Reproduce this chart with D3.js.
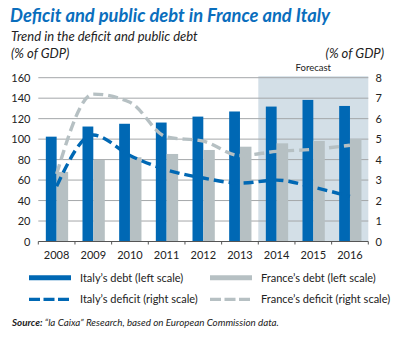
<!DOCTYPE html>
<html>
<head>
<meta charset="utf-8">
<script src="https://cdn.jsdelivr.net/npm/d3@7"></script>
<style>
  html, body { margin: 0; padding: 0; background: #fff; }
  svg { display: block; font-family: "Lato", "Open Sans", sans-serif; }
</style>
</head>
<body>
<svg id="chart" width="397" height="338"></svg>
<script>
// Years on the horizontal axis
const years = ["2008", "2009", "2010", "2011", "2012", "2013", "2014", "2015", "2016"];
// Years that are forecasts (shaded)
const forecastYears = ["2014", "2015", "2016"];
// Public debt, % of GDP (left scale)
const italyDebt = [102.4, 112.3, 115.0, 116.2, 122.0, 127.0, 131.8, 138.3, 132.4];
const franceDebt = [68.0, 79.6, 82.3, 85.5, 89.4, 92.6, 95.9, 98.2, 100.1];
// Deficit, % of GDP (right scale)
const italyDeficit = [2.7, 5.2, 4.2, 3.5, 3.1, 2.85, 3.0, 2.65, 2.2];
const franceDeficit = [3.3, 7.2, 6.8, 5.1, 4.9, 4.2, 4.4, 4.5, 4.7];
// Axis ticks
const leftTicks = [0, 20, 40, 60, 80, 100, 120, 140, 160];
const rightTicks = [0, 1, 2, 3, 4, 5, 6, 7, 8];

const blue = "#0068b4";
const grey = "#b6c0c3";
const shade = "#d3dfe7";

const svg = d3.select("#chart");

const plotLeft = 38.3, plotRight = 368.3, plotTop = 77.7, plotBottom = 241.5;

const x = d3.scaleBand().domain(years).range([plotLeft, plotRight]).padding(0);
const yL = d3.scaleLinear().domain([0, 160]).range([plotBottom, plotTop]);
const yR = d3.scaleLinear().domain([0, 8]).range([plotBottom, plotTop]);

// Forecast band
const f0 = x(forecastYears[0]);
const f1 = x(forecastYears[forecastYears.length - 1]) + x.bandwidth();
svg.append("rect")
  .attr("x", f0).attr("y", plotTop - 1.5)
  .attr("width", f1 - f0).attr("height", plotBottom - plotTop + 1.5)
  .attr("fill", shade);
svg.append("text")
  .attr("x", (f0 + f1) / 2).attr("y", 70.5)
  .attr("text-anchor", "middle")
  .attr("font-size", 9.5).attr("fill", "#222")
  .text("Forecast");

// Horizontal gridlines
svg.append("g").selectAll("line")
  .data(leftTicks.filter(d => d > 0))
  .join("line")
  .attr("x1", plotLeft).attr("x2", plotRight)
  .attr("y1", d => yL(d)).attr("y2", d => yL(d))
  .attr("stroke", "#a4a7a9").attr("stroke-width", 1);

// Bars
const barW = 10.8;
const bars = svg.append("g");
bars.selectAll(".it")
  .data(years.map((y, i) => ({ y, v: italyDebt[i] })))
  .join("rect")
  .attr("x", d => x(d.y) + x.bandwidth() / 2 - barW)
  .attr("y", d => yL(d.v))
  .attr("width", barW)
  .attr("height", d => yL(0) - yL(d.v))
  .attr("fill", blue);
bars.selectAll(".fr")
  .data(years.map((y, i) => ({ y, v: franceDebt[i] })))
  .join("rect")
  .attr("x", d => x(d.y) + x.bandwidth() / 2)
  .attr("y", d => yL(d.v))
  .attr("width", barW + 0.7)
  .attr("height", d => yL(0) - yL(d.v))
  .attr("fill", grey);

// Deficit lines
const line = d3.line()
  .x((d, i) => x(years[i]) + x.bandwidth() / 2)
  .y(d => yR(d))
  .curve(d3.curveMonotoneX);

svg.append("path")
  .attr("d", line(franceDeficit))
  .attr("fill", "none").attr("stroke", grey)
  .attr("stroke-width", 3.4).attr("stroke-dasharray", "10,5");
svg.append("path")
  .attr("d", line(italyDeficit))
  .attr("fill", "none").attr("stroke", blue)
  .attr("stroke-width", 3.4).attr("stroke-dasharray", "10,5");

// X axis
const xAxis = svg.append("g").attr("transform", `translate(0,${plotBottom})`);
xAxis.append("line")
  .attr("x1", plotLeft).attr("x2", plotRight)
  .attr("stroke", "#555").attr("stroke-width", 1.2);
xAxis.selectAll(".tk")
  .data(years.concat(["end"]))
  .join("line")
  .attr("x1", (d, i) => plotLeft + i * x.bandwidth())
  .attr("x2", (d, i) => plotLeft + i * x.bandwidth())
  .attr("y1", 0).attr("y2", 3)
  .attr("stroke", "#555").attr("stroke-width", 1);
xAxis.selectAll("text")
  .data(years)
  .join("text")
  .attr("x", d => x(d) + x.bandwidth() / 2)
  .attr("y", 17)
  .attr("text-anchor", "middle")
  .attr("font-size", 11).attr("fill", "#222")
  .text(d => d);

// Left axis labels
svg.append("g").selectAll("text")
  .data(leftTicks)
  .join("text")
  .attr("x", 30.5).attr("y", d => yL(d) + 4)
  .attr("text-anchor", "end")
  .attr("font-size", 11).attr("fill", "#222")
  .text(d => d);

// Right axis labels
svg.append("g").selectAll("text")
  .data(rightTicks)
  .join("text")
  .attr("x", 375.5).attr("y", d => yR(d) + 4)
  .attr("font-size", 11).attr("fill", "#222")
  .text(d => d);

// Titles
svg.append("text")
  .attr("x", 10).attr("y", 21.5)
  .attr("font-size", 18.3).attr("font-weight", "bold").attr("font-style", "italic")
  .attr("fill", "#0a6ebd")
  .text("Deficit and public debt in France and Italy");
svg.append("text")
  .attr("x", 11).attr("y", 41)
  .attr("font-size", 13).attr("font-style", "italic").attr("fill", "#222")
  .text("Trend in the deficit and public debt");
svg.append("text")
  .attr("x", 11).attr("y", 57.5)
  .attr("font-size", 13).attr("font-style", "italic").attr("fill", "#222")
  .text("(% of GDP)");
svg.append("text")
  .attr("x", 384).attr("y", 57.5).attr("text-anchor", "end")
  .attr("font-size", 13).attr("font-style", "italic").attr("fill", "#222")
  .text("(% of GDP)");

// Legend
const legend = [
  { label: "Italy\u2019s debt (left scale)", color: blue, dash: null, x: 29, y: 277.7 },
  { label: "France\u2019s debt (left scale)", color: grey, dash: null, x: 210, y: 277.7 },
  { label: "Italy\u2019s deficit (right scale)", color: blue, dash: "11,3.5", x: 29, y: 299.3 },
  { label: "France\u2019s deficit (right scale)", color: grey, dash: "11,3.5", x: 210, y: 299.3 }
];
const lg = svg.append("g").selectAll("g").data(legend).join("g");
lg.append("line")
  .attr("x1", d => d.x).attr("x2", d => d.x + 42)
  .attr("y1", d => d.y).attr("y2", d => d.y)
  .attr("stroke", d => d.color)
  .attr("stroke-width", d => d.dash ? 3.3 : 5)
  .attr("stroke-dasharray", d => d.dash);
lg.append("text")
  .attr("x", d => d.x + 51).attr("y", d => d.y + 4)
  .attr("font-size", 11).attr("fill", "#222")
  .text(d => d.label);

// Source
const src = svg.append("text")
  .attr("x", 12).attr("y", 325.5)
  .attr("font-size", 9.8).attr("font-style", "italic").attr("fill", "#222");
src.append("tspan").attr("font-weight", "bold").text("Source:");
src.append("tspan").text(" \u201Cla Caixa\u201D Research, based on European Commission data.");
</script>
</body>
</html>
